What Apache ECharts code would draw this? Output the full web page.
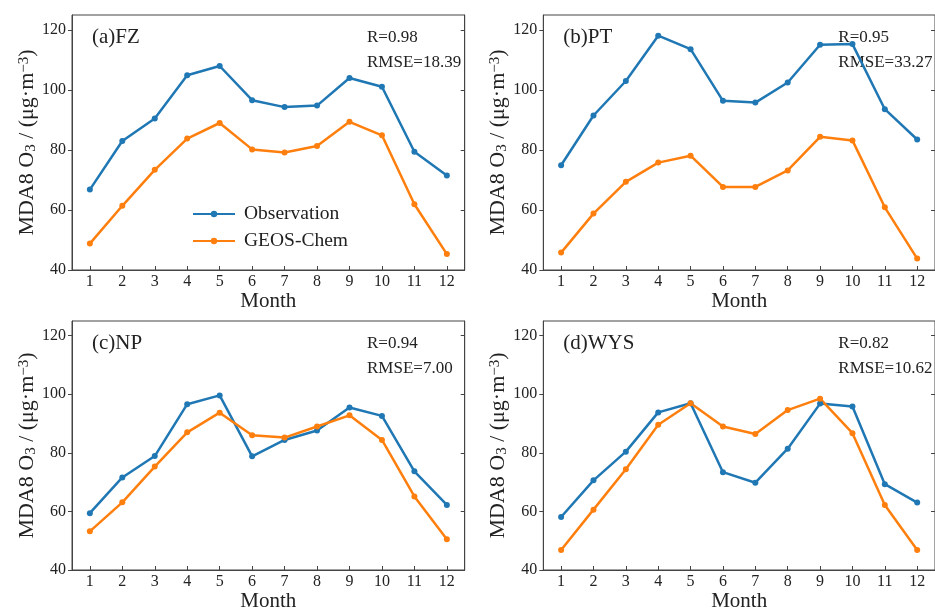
<!DOCTYPE html>
<html>
<head>
<meta charset="utf-8">
<script src="https://cdn.jsdelivr.net/npm/echarts@6/dist/echarts.min.js"></script>
<style>
  html, body { margin: 0; padding: 0; background: #fff; }
  #main { width: 935px; height: 613px; }
</style>
</head>
<body>
<div id="main"></div>
<script>
var months = [1, 2, 3, 4, 5, 6, 7, 8, 9, 10, 11, 12]
var yTicks = [40, 60, 80, 100, 120]
var panelNames = ['(a)FZ', '(b)PT', '(c)NP', '(d)WYS']
var rTexts = ['R=0.98', 'R=0.95', 'R=0.94', 'R=0.82']
var rmseTexts = ['RMSE=18.39', 'RMSE=33.27', 'RMSE=7.00', 'RMSE=10.62']

var obsFZ = [66.8, 83.0, 90.5, 104.9, 108.0, 96.6, 94.3, 94.8, 104.0, 101.1, 79.4, 71.5]
var geosFZ = [48.8, 61.4, 73.4, 83.8, 89.0, 80.2, 79.2, 81.3, 89.4, 84.9, 61.9, 45.3]
var obsPT = [74.9, 91.5, 103.0, 118.1, 113.6, 96.4, 95.8, 102.5, 115.1, 115.3, 93.6, 83.5]
var geosPT = [45.8, 58.8, 69.4, 75.8, 78.1, 67.7, 67.7, 73.2, 84.4, 83.2, 60.9, 43.8]
var obsNP = [59.4, 71.6, 78.9, 96.6, 99.6, 78.8, 84.4, 87.6, 95.5, 92.6, 73.7, 62.2]
var geosNP = [53.2, 63.1, 75.3, 87.0, 93.7, 86.0, 85.2, 89.0, 92.8, 84.4, 65.1, 50.5]
var obsWYS = [58.1, 70.6, 80.4, 93.8, 96.9, 73.4, 69.8, 81.4, 96.8, 95.8, 69.3, 63.0]
var geosWYS = [46.8, 60.6, 74.4, 89.6, 96.9, 89.0, 86.4, 94.6, 98.5, 86.7, 62.2, 46.8]

var obsAll = [obsFZ, obsPT, obsNP, obsWYS]
var geosAll = [geosFZ, geosPT, geosNP, geosWYS]

var font = "'Liberation Serif', 'Times New Roman', serif"
var axisColor = '#444'
var textColor = '#222'

// plot boxes (pixels)
var boxes = [
  { left: 72, top: 15 },
  { left: 543.3, top: 15 },
  { left: 72, top: 321 },
  { left: 543.3, top: 321 }
]
var boxW = 392.7, boxH = 255

function pairs(vals) {
  var out = []
  for (var i = 0; i < months.length; i++) out.push([months[i], vals[i]])
  return out
}

var grids = [], xAxes = [], yAxes = [], series = [], graphics = []

for (var p = 0; p < 4; p++) {
  var b = boxes[p]
  grids.push({
    left: b.left, top: b.top, width: boxW, height: boxH,
    show: true, borderColor: axisColor, borderWidth: 1, backgroundColor: 'transparent'
  })
  xAxes.push({
    gridIndex: p, type: 'value', min: 0.45, max: 12.55,
    axisLine: { show: true, lineStyle: { color: axisColor, width: 1 } },
    axisTick: { show: true, inside: true, length: 4, customValues: months, lineStyle: { color: axisColor } },
    axisLabel: { customValues: months, margin: 4, fontFamily: font, fontSize: 16, color: textColor },
    splitLine: { show: false },
    name: 'Month', nameLocation: 'middle', nameGap: 21,
    nameTextStyle: { fontFamily: font, fontSize: 21, color: textColor }
  })
  yAxes.push({
    gridIndex: p, type: 'value', min: 40, max: 125, position: 'left',
    axisLine: { show: true, lineStyle: { color: axisColor, width: 1 } },
    axisTick: { show: true, inside: false, length: 4, customValues: yTicks, lineStyle: { color: axisColor } },
    axisLabel: { customValues: yTicks, margin: 6, fontFamily: font, fontSize: 16, color: textColor },
    splitLine: { show: false },
    name: 'MDA8 O{sub|3} / (μg·m{sup|−3})', nameLocation: 'middle', nameGap: 25, nameRotate: 90,
    nameTextStyle: {
      fontFamily: font, fontSize: 22, color: textColor,
      rich: {
        sub: { fontFamily: font, fontSize: 15, color: textColor, verticalAlign: 'bottom', lineHeight: 15 },
        sup: { fontFamily: font, fontSize: 15, color: textColor, verticalAlign: 'top', lineHeight: 13 }
      }
    }
  })
  yAxes.push({
    gridIndex: p, type: 'value', min: 40, max: 125, position: 'right',
    axisLine: { show: true, lineStyle: { color: axisColor, width: 1 } },
    axisTick: { show: true, inside: true, length: 4, customValues: yTicks, lineStyle: { color: axisColor } },
    axisLabel: { show: false },
    splitLine: { show: false }
  })
  series.push({
    name: 'Observation', type: 'line', xAxisIndex: p, yAxisIndex: 2 * p,
    data: pairs(obsAll[p]), color: '#1f77b4',
    symbol: 'circle', symbolSize: 6, lineStyle: { width: 2.5 }
  })
  series.push({
    name: 'GEOS-Chem', type: 'line', xAxisIndex: p, yAxisIndex: 2 * p,
    data: pairs(geosAll[p]), color: '#ff7f0e',
    symbol: 'circle', symbolSize: 6, lineStyle: { width: 2.5 }
  })
  graphics.push({
    type: 'text', left: b.left + 20, top: b.top + 12,
    style: { text: panelNames[p], font: '21px ' + font, fill: textColor }
  })
  graphics.push({
    type: 'text', left: b.left + 295, top: b.top + 14,
    style: { text: rTexts[p], font: '17px ' + font, fill: textColor }
  })
  graphics.push({
    type: 'text', left: b.left + 295, top: b.top + 39,
    style: { text: rmseTexts[p], font: '17px ' + font, fill: textColor }
  })
}

var chart = echarts.init(document.getElementById('main'))
chart.setOption({
  animation: false,
  backgroundColor: '#fff',
  grid: grids,
  xAxis: xAxes,
  yAxis: yAxes,
  legend: {
    data: ['Observation', 'GEOS-Chem'],
    orient: 'vertical', left: 187, top: 199,
    itemWidth: 42, itemHeight: 8, itemGap: 7,
    textStyle: { fontFamily: font, fontSize: 19.5, color: textColor, padding: [0, 0, 0, 4] }
  },
  graphic: graphics,
  series: series
})
</script>
</body>
</html>
